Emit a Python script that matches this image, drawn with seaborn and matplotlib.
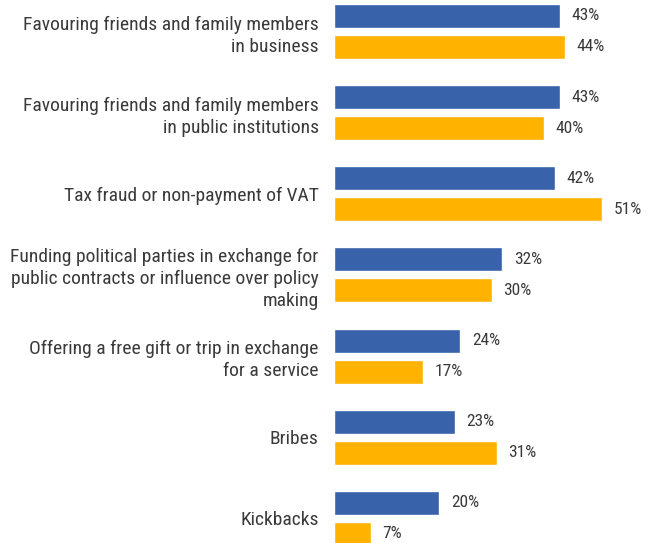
import pandas as pd
import matplotlib
matplotlib.use("Agg")
import matplotlib.pyplot as plt
from matplotlib import font_manager as fm
import seaborn as sns

# categories (top to bottom) and the two series
categories = [
    "Favouring friends and family members\nin business",
    "Favouring friends and family members\nin public institutions",
    "Tax fraud or non-payment of VAT",
    "Funding political parties in exchange for\npublic contracts or influence over policy\nmaking",
    "Offering a free gift or trip in exchange\nfor a service",
    "Bribes",
    "Kickbacks",
]
series_names = ["Series 1", "Series 2"]
series_1 = [43, 43, 42, 32, 24, 23, 20]
series_2 = [44, 40, 51, 30, 17, 31, 7]

colors = ["#3862AA", "#FFB300"]
text_color = "#3A3A3A"


def find_narrow_font():
    # the reference uses an Arial Narrow look; pick any condensed face that exists
    prefs = ["liberation sans narrow", "arial narrow", "roboto condensed",
             "open sans condensed", "noto sans", "dejavu sans"]
    found = []
    for f in fm.fontManager.ttflist:
        key = (f.name + " " + f.fname).lower()
        narrow = ("narrow" in key or "condensed" in key
                  or str(f.stretch) in ("condensed", "semi-condensed"))
        if not narrow or f.style != "normal":
            continue
        if "semi" in key or "extra" in key or "ultra" in key:
            continue
        if str(f.weight) not in ("400", "normal", "regular"):
            continue
        found.append(f)
    for p in prefs:
        for f in found:
            if f.name.lower().startswith(p):
                return f.fname
    return found[0].fname if found else None


narrow_path = find_narrow_font()
if narrow_path:
    label_font = fm.FontProperties(fname=narrow_path, size=14)
    value_font = fm.FontProperties(fname=narrow_path, size=12.5)
else:
    label_font = fm.FontProperties(family="Liberation Sans", size=12)
    value_font = fm.FontProperties(family="Liberation Sans", size=10.5)

df = pd.DataFrame({
    "category": categories * 2,
    "series": [series_names[0]] * len(categories) + [series_names[1]] * len(categories),
    "value": series_1 + series_2,
})

sns.set_style("white")
plt.rcParams["font.family"] = ["Liberation Sans", "DejaVu Sans"]

fig = plt.figure(figsize=(6.57, 5.43), dpi=100)
ax = fig.add_axes([334 / 657, 0, 323 / 657, 1])

sns.barplot(data=df, y="category", x="value", hue="series", orient="y",
            palette=colors, width=0.764, gap=0.226, legend=False, ax=ax,
            order=categories, hue_order=series_names, saturation=1)

for cont in ax.containers:
    ax.bar_label(cont, labels=[f"{v:.0f}%" for v in cont.datavalues],
                 padding=8.5, fontproperties=value_font, color=text_color)

ax.set_xlim(0, 61.5)
ax.set_ylim(6.302, -0.388)
ax.set_xlabel("")
ax.set_ylabel("")
ax.set_xticks([])
ax.tick_params(axis="y", length=0, pad=11, labelcolor=text_color)
for lbl in ax.get_yticklabels():
    lbl.set_fontproperties(label_font)
    lbl.set_horizontalalignment("right")
    lbl.set_multialignment("right")
    lbl.set_linespacing(1.3)
sns.despine(ax=ax, left=True, bottom=True)

fig.savefig("out.png", dpi=100)
